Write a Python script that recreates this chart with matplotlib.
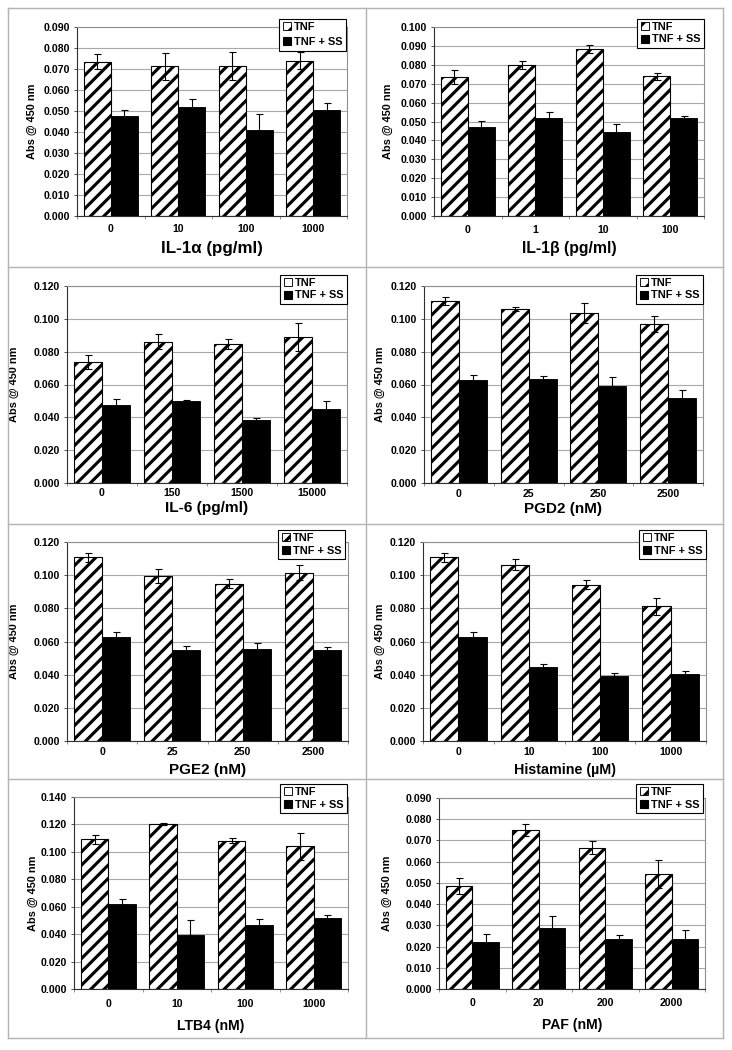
import numpy as np
import matplotlib
matplotlib.use("Agg")
import matplotlib.pyplot as plt
from matplotlib.lines import Line2D
from matplotlib.patches import Patch

plt.rcParams['font.family'] = ['Liberation Sans', 'DejaVu Sans']
plt.rcParams['font.weight'] = 'bold'
plt.rcParams['hatch.linewidth'] = 2.8
plt.rcParams['hatch.color'] = 'black'

# ---------------- data ----------------
series_names = ["TNF", "TNF + SS"]

il1a_cats = ["0", "10", "100", "1000"]
il1a_tnf = [0.0735, 0.0713, 0.0715, 0.0740]
il1a_tnf_err = [0.0037, 0.0065, 0.0067, 0.0042]
il1a_ss = [0.0475, 0.0520, 0.0410, 0.0506]
il1a_ss_err = [0.0031, 0.0035, 0.0077, 0.0033]

il1b_cats = ["0", "1", "10", "100"]
il1b_tnf = [0.0733, 0.0800, 0.0885, 0.0740]
il1b_tnf_err = [0.0037, 0.0021, 0.0020, 0.0019]
il1b_ss = [0.0472, 0.0516, 0.0446, 0.0518]
il1b_ss_err = [0.0032, 0.0035, 0.0042, 0.0010]

il6_cats = ["0", "150", "1500", "15000"]
il6_tnf = [0.0737, 0.0861, 0.0845, 0.0891]
il6_tnf_err = [0.0041, 0.0045, 0.0030, 0.0086]
il6_ss = [0.0473, 0.0500, 0.0382, 0.0449]
il6_ss_err = [0.0039, 0.0004, 0.0016, 0.0048]

pgd2_cats = ["0", "25", "250", "2500"]
pgd2_tnf = [0.1111, 0.1061, 0.1038, 0.0968]
pgd2_tnf_err = [0.0025, 0.0012, 0.0061, 0.0048]
pgd2_ss = [0.0626, 0.0634, 0.0593, 0.0516]
pgd2_ss_err = [0.0032, 0.0016, 0.0053, 0.0049]

pge2_cats = ["0", "25", "250", "2500"]
pge2_tnf = [0.1108, 0.0995, 0.0949, 0.1015]
pge2_tnf_err = [0.0028, 0.0040, 0.0026, 0.0046]
pge2_ss = [0.0626, 0.0546, 0.0554, 0.0546]
pge2_ss_err = [0.0033, 0.0026, 0.0038, 0.0018]

hist_cats = ["0", "10", "100", "1000"]
hist_tnf = [0.1108, 0.1063, 0.0943, 0.0812]
hist_tnf_err = [0.0028, 0.0032, 0.0028, 0.0052]
hist_ss = [0.0626, 0.0449, 0.0391, 0.0407]
hist_ss_err = [0.0033, 0.0018, 0.0022, 0.0016]

ltb4_cats = ["0", "10", "100", "1000"]
ltb4_tnf = [0.1091, 0.1203, 0.1081, 0.1040]
ltb4_tnf_err = [0.0032, 0.0007, 0.0017, 0.0100]
ltb4_ss = [0.0620, 0.0396, 0.0464, 0.0518]
ltb4_ss_err = [0.0034, 0.0109, 0.0044, 0.0019]

paf_cats = ["0", "20", "200", "2000"]
paf_tnf = [0.0487, 0.0749, 0.0666, 0.0540]
paf_tnf_err = [0.0037, 0.0027, 0.0031, 0.0066]
paf_ss = [0.0221, 0.0289, 0.0234, 0.0237]
paf_ss_err = [0.0038, 0.0056, 0.0019, 0.0042]

x_titles = ["IL-1\u03b1 (pg/ml)", "IL-1\u03b2 (pg/ml)", "IL-6 (pg/ml)", "PGD2 (nM)",
            "PGE2 (nM)", "Histamine (\u00b5M)", "LTB4 (nM)", "PAF (nM)"]
y_title = "Abs @ 450 nm"
y_max = [0.09, 0.10, 0.12, 0.12, 0.12, 0.12, 0.14, 0.09]
y_step = [0.01, 0.01, 0.02, 0.02, 0.02, 0.02, 0.02, 0.01]

panels = [
    (il1a_cats, il1a_tnf, il1a_tnf_err, il1a_ss, il1a_ss_err),
    (il1b_cats, il1b_tnf, il1b_tnf_err, il1b_ss, il1b_ss_err),
    (il6_cats, il6_tnf, il6_tnf_err, il6_ss, il6_ss_err),
    (pgd2_cats, pgd2_tnf, pgd2_tnf_err, pgd2_ss, pgd2_ss_err),
    (pge2_cats, pge2_tnf, pge2_tnf_err, pge2_ss, pge2_ss_err),
    (hist_cats, hist_tnf, hist_tnf_err, hist_ss, hist_ss_err),
    (ltb4_cats, ltb4_tnf, ltb4_tnf_err, ltb4_ss, ltb4_ss_err),
    (paf_cats, paf_tnf, paf_tnf_err, paf_ss, paf_ss_err),
]

# ---------------- layout (pixels) ----------------
W, H = 732, 1050
DPI = 80
# left, right, top, bottom of plot area
boxes = [(77, 347, 27, 216), (434, 704, 27, 216),
         (67, 347, 286, 483), (424, 703, 286, 483),
         (67, 348, 542, 741), (423, 706, 542, 741),
         (74, 348, 797, 989), (439, 705, 798, 989)]
ylabel_x = [32, 388, 14, 380, 14, 380, 33, 387]
xtick_y = [230, 231, 494, 495, 753, 753, 1005, 1004]
xlabel_y = [249, 248, 508, 509, 770, 770, 1026, 1025]
xlabel_px = [17.0, 15.7, 15.5, 15.3, 15.3, 14.3, 14.0, 14.0]
# legend right, top
legend_box = [(346, 19), (704, 19), (347, 275), (703, 275),
              (345, 530), (706, 530), (347, 784), (703, 784)]


def pt(px):
    return px * 72.0 / DPI


fig = plt.figure(figsize=(W / DPI, H / DPI), dpi=DPI)
fig.patch.set_facecolor('white')

grid_col = '#a8a8a8'
width = 0.4

for i, (cats, tnf, tnf_err, ss, ss_err) in enumerate(panels):
    l, r, t, b = boxes[i]
    ax = fig.add_axes([l / W, 1 - b / H, (r - l) / W, (b - t) / H])
    x = np.arange(len(cats))
    ax.bar(x - width / 2, tnf, width, color='white', edgecolor='black',
           hatch='//', linewidth=1.0, zorder=2, label=series_names[0])
    ax.bar(x + width / 2, ss, width, color='black', edgecolor='black',
           linewidth=0.8, zorder=2, label=series_names[1])
    ax.errorbar(x - width / 2, tnf, yerr=tnf_err, fmt='none', ecolor='black',
                elinewidth=1.0, capsize=pt(3.5), capthick=1.0, zorder=3)
    ax.errorbar(x + width / 2, ss, yerr=ss_err, fmt='none', ecolor='black',
                elinewidth=1.0, capsize=pt(3.5), capthick=1.0, zorder=3)

    ax.set_xlim(-0.5, len(cats) - 0.5)
    ax.set_ylim(0, y_max[i])
    ticks = np.arange(0, y_max[i] + y_step[i] / 2, y_step[i])
    ax.set_yticks(ticks)
    ax.set_yticklabels(["%.3f" % v for v in ticks])
    ax.yaxis.grid(True, color=grid_col, linewidth=1.0, zorder=0)
    ax.set_axisbelow(True)

    ax.set_xticks(x)
    ax.set_xticklabels(cats)
    ax.set_xticks(np.arange(len(cats) + 1) - 0.5, minor=True)
    ax.tick_params(axis='x', which='major', length=0,
                   pad=pt(xtick_y[i] - b - 6), labelsize=pt(10.5))
    ax.tick_params(axis='x', which='minor', length=pt(3), direction='out',
                   color='#606060')
    ax.tick_params(axis='y', length=pt(3), direction='out', pad=pt(4),
                   labelsize=pt(10.5), color='#404040')
    for lab in ax.get_xticklabels() + ax.get_yticklabels():
        lab.set_fontweight('bold')

    for side in ['top', 'right']:
        ax.spines[side].set_color('#909090')
        ax.spines[side].set_linewidth(1.0)
    for side in ['left', 'bottom']:
        ax.spines[side].set_color('#303030')
        ax.spines[side].set_linewidth(1.0)

    ax.set_ylabel(y_title, fontsize=pt(11), fontweight='bold', va='center')
    ax.yaxis.set_label_coords((ylabel_x[i] - l) / (r - l), 0.5)
    ax.set_xlabel(x_titles[i], fontsize=pt(xlabel_px[i]), fontweight='bold',
                  va='center')
    ax.xaxis.set_label_coords(0.5, (b - xlabel_y[i]) / (b - t))

    lr, lt = legend_box[i]
    handles = [Patch(facecolor='white', edgecolor='black', hatch='/', linewidth=0.8),
               Patch(facecolor='black', edgecolor='black')]
    spacing = 0.45 if i == 0 else 0.2
    leg = ax.legend(handles, series_names, loc='upper right',
                    bbox_to_anchor=(lr / W, 1 - lt / H),
                    bbox_transform=fig.transFigure, borderaxespad=0,
                    frameon=True, fancybox=False, framealpha=1,
                    edgecolor='black', prop={'size': pt(11), 'weight': 'bold'},
                    handlelength=0.75, handleheight=0.75, handletextpad=0.3,
                    labelspacing=spacing, borderpad=0.3)
    leg.get_frame().set_linewidth(1.0)
    leg.set_zorder(5)

# panel separator lines
line_col = '#b4b4b4'
xs = [8, 366, 723]
ys = [8, 267, 524, 779, 1038]
for xv in xs:
    fig.add_artist(Line2D([xv / W, xv / W], [1 - 8 / H, 1 - 1038 / H],
                          color=line_col, linewidth=1.3, transform=fig.transFigure))
for yv in ys:
    fig.add_artist(Line2D([8 / W, 723 / W], [1 - yv / H, 1 - yv / H],
                          color=line_col, linewidth=1.3, transform=fig.transFigure))

fig.savefig("out.png", dpi=DPI, facecolor='white')
